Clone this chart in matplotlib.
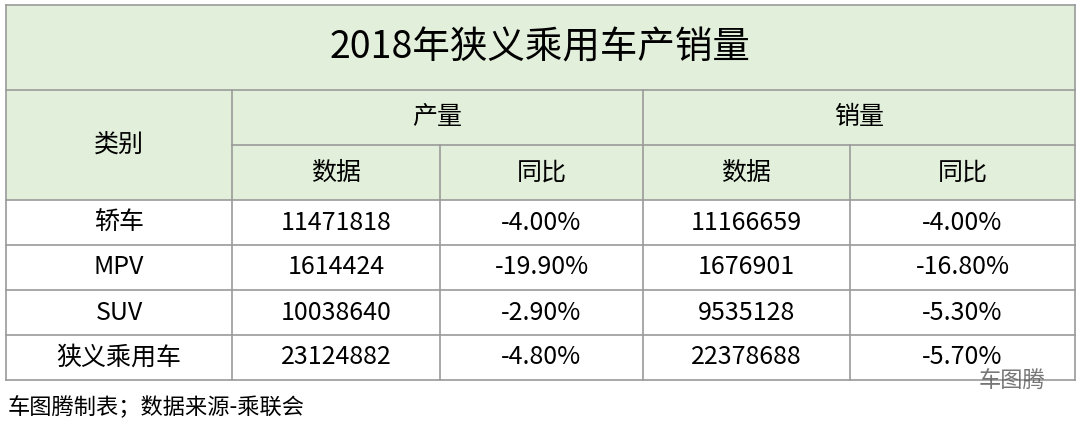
import matplotlib.pyplot as plt
from matplotlib.patches import Rectangle

plt.rcParams['font.family'] = ['Noto Sans CJK SC', 'DejaVu Sans']

title = "2018年狭义乘用车产销量"
groups = ["产量", "销量"]
sub_headers = ["数据", "同比", "数据", "同比"]
categories = ["轿车", "MPV", "SUV", "狭义乘用车"]
prod_values = [11471818, 1614424, 10038640, 23124882]
prod_yoy = ["-4.00%", "-19.90%", "-2.90%", "-4.80%"]
sales_values = [11166659, 1676901, 9535128, 22378688]
sales_yoy = ["-4.00%", "-16.80%", "-5.30%", "-5.70%"]
footer = "车图腾制表；数据来源-乘联会"

W, H = 1080, 429
fig = plt.figure(figsize=(W / 100, H / 100), dpi=100)
ax = fig.add_axes([0, 0, 1, 1])
ax.set_xlim(0, W)
ax.set_ylim(H, 0)
ax.axis('off')

green = '#e2efda'
line_c = '#9a9a9a'
cols = [6, 232, 440, 643, 850, 1075]
rows = [5, 90, 145, 200, 245, 290, 335, 380]

ax.add_patch(Rectangle((cols[0], rows[0]), cols[-1] - cols[0], rows[3] - rows[0],
                       facecolor=green, edgecolor='none'))

lw = 1.2
for y in [rows[0], rows[1], rows[3], rows[4], rows[5], rows[6], rows[7]]:
    ax.plot([cols[0], cols[-1]], [y, y], color=line_c, lw=lw)
ax.plot([cols[1], cols[-1]], [rows[2], rows[2]], color=line_c, lw=lw)
ax.plot([cols[0], cols[0]], [rows[0], rows[-1]], color=line_c, lw=lw)
ax.plot([cols[-1], cols[-1]], [rows[0], rows[-1]], color=line_c, lw=lw)
ax.plot([cols[1], cols[1]], [rows[1], rows[-1]], color=line_c, lw=lw)
ax.plot([cols[3], cols[3]], [rows[1], rows[-1]], color=line_c, lw=lw)
for x in [cols[2], cols[4]]:
    ax.plot([x, x], [rows[2], rows[-1]], color=line_c, lw=lw)

ax.text(W / 2, (rows[0] + rows[1]) / 2, title, ha='center', va='center', fontsize=27)
ax.text((cols[0] + cols[1]) / 2, (rows[1] + rows[3]) / 2, "类别", ha='center', va='center', fontsize=18)
for i, g in enumerate(groups):
    ax.text((cols[1 + 2 * i] + cols[3 + 2 * i]) / 2, (rows[1] + rows[2]) / 2, g,
            ha='center', va='center', fontsize=18)
for i, s in enumerate(sub_headers):
    ax.text((cols[1 + i] + cols[2 + i]) / 2, (rows[2] + rows[3]) / 2, s,
            ha='center', va='center', fontsize=18)

for r, cat in enumerate(categories):
    yc = (rows[3 + r] + rows[4 + r]) / 2
    cells = [cat, str(prod_values[r]), prod_yoy[r], str(sales_values[r]), sales_yoy[r]]
    for c, txt in enumerate(cells):
        ax.text((cols[c] + cols[c + 1]) / 2, yc, txt, ha='center', va='center', fontsize=18)

ax.text(8, 408, footer, ha='left', va='center', fontsize=16)
ax.text(1045, 381, "车图腾", ha='right', va='center', fontsize=16, color='#555555', alpha=0.8)

fig.savefig("out.png", dpi=100)
